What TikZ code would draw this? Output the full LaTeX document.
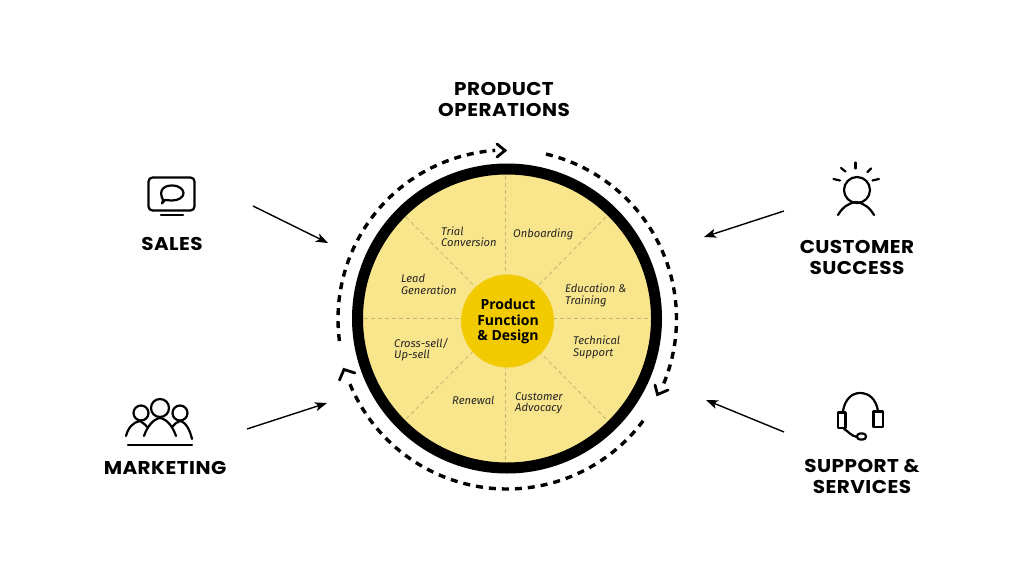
\documentclass[tikz,border=0pt]{standalone}
\usepackage{fontspec}
\usetikzlibrary{arrows.meta}
\setmainfont{Poppins}
\newfontfamily\headfont[FakeStretch=1.08,LetterSpace=2.5]{Poppins}
\newfontfamily\itfont{Fira Sans}
\newfontfamily\cenfont{Open Sans}
\definecolor{pale}{HTML}{F9E58B}
\definecolor{core}{HTML}{F2CA00}
\definecolor{spoke}{HTML}{C4B570}
\definecolor{ink}{HTML}{000000}
\tikzset{
  x=1pt,y=-1pt,
  head/.style={font=\headfont\fontsize{18.5}{21}\selectfont\bfseries,text=ink,align=center,inner sep=0pt},
  seg/.style={font=\itfont\itshape\fontsize{11.2}{11.5}\selectfont,text=ink!85,align=left,anchor=west,inner sep=0pt},
  corelabel/.style={font=\cenfont\bfseries\fontsize{14}{15.5}\selectfont,text=ink,align=center,inner sep=0pt},
  spokeline/.style={draw=spoke,line width=0.8pt,dash pattern=on 4pt off 3pt},
  orbit/.style={draw=ink,line width=3.4pt,dash pattern=on 7pt off 6pt,smooth},
  pointer/.style={draw=ink,line width=1.4pt,-{Stealth[length=12pt,width=9pt,inset=3pt]}},
  icon/.style={draw=ink,line width=2.2pt,line cap=round,line join=round},
  barb/.style={draw=ink,line width=2.8pt,line cap=round,line join=miter}
}
\begin{document}
\begin{tikzpicture}
\useasboundingbox[fill=white] (0,0) rectangle (1024,577);
% wheel
\node[circle,fill=pale,draw=ink,line width=11pt,minimum size=299pt,inner sep=0pt] (wheel) at (507,318.5) {};
\coordinate (wN) at (505.5,176); \coordinate (wS) at (505.5,461);
\coordinate (wW) at (364,318); \coordinate (wE) at (650,318);
\coordinate (wNW) at (406,217); \coordinate (wNE) at (606,217);
\coordinate (wSW) at (406,419); \coordinate (wSE) at (606,419);
\foreach \a/\b in {wN/wS,wW/wE,wNW/wSE,wNE/wSW} \draw[spokeline] (\a) -- (\b);
\node[circle,fill=core,minimum size=93pt,inner sep=0pt] (hub) at (507.5,321) {};
\node[corelabel] (hubt) at (508,321.5) {Product\\Function\\\& Design};
% segment labels
\node[seg] (s1) at (441,236.5) {Trial\\Conversion};
\node[seg] (s2) at (513,234.5) {Onboarding};
\node[seg] (s3) at (401,284.5) {Lead\\Generation};
\node[seg] (s4) at (565,295.5) {Education \&\\Training};
\node[seg] (s5) at (394,349.5) {Cross-sell/\\Up-sell};
\node[seg] (s6) at (573,347.5) {Technical\\Support};
\node[seg] (s7) at (452,400.5) {Renewal};
\node[seg] (s8) at (515,403.5) {Customer\\Advocacy};
% orbit arcs
\draw[orbit] plot[domain=172.5:266,samples=60] ({507+169*cos(\x)},{319+169*sin(\x)});
\draw[orbit] plot[domain=-76.7:23,samples=60] ({507+169.5*cos(\x)},{319+169.5*sin(\x)});
\draw[orbit] plot[domain=36.8:158,samples=60] ({507+170*cos(\x)},{319+170*sin(\x)});
\coordinate (b1a) at (497,144); \coordinate (b1b) at (505,150.5); \coordinate (b1c) at (497,157);
\draw[barb] (b1a) -- (b1b) -- (b1c);
\coordinate (b2a) at (655,385); \coordinate (b2b) at (657.5,394.5); \coordinate (b2c) at (668,390);
\draw[barb] (b2a) -- (b2b) -- (b2c);
\coordinate (b3a) at (339.5,380); \coordinate (b3b) at (344,369.5); \coordinate (b3c) at (355,373);
\draw[barb] (b3a) -- (b3b) -- (b3c);
% titles
\node[head] (ops) at (504,99) {PRODUCT\\OPERATIONS};
\node[head] (sales) at (172,243.5) {SALES};
\node[head] (mkt) at (165,467.5) {MARKETING};
\node[head] (cs) at (857,257) {CUSTOMER\\SUCCESS};
\node[head] (sup) at (862,476.5) {SUPPORT \&\\SERVICES};
% pointers
\coordinate (p1a) at (253,206); \coordinate (p1b) at (328,243);
\coordinate (p2a) at (247,429); \coordinate (p2b) at (327,403);
\coordinate (p3a) at (784,211); \coordinate (p3b) at (704,237);
\coordinate (p4a) at (784,432); \coordinate (p4b) at (706,400);
\draw[pointer] (p1a) -- (p1b);
\draw[pointer] (p2a) -- (p2b);
\draw[pointer] (p3a) -- (p3b);
\draw[pointer] (p4a) -- (p4b);
% sales icon
\draw[icon,rounded corners=4pt] (148.5,177.5) rectangle (194.5,210.5);
\draw[icon] (161,215) -- (183,215);
\draw[icon] (163,200) .. controls (158,190) and (164,185.5) .. (172,185.5)
  .. controls (180,185.5) and (183.5,190) .. (183.5,193)
  .. controls (183.5,197) and (179,200.5) .. (172,200.5)
  .. controls (169,200.5) and (167,200) .. (165,200) -- (162,203.5) -- cycle;
% marketing icon
\draw[icon] (160,408) circle (9);
\draw[icon] (141,413) circle (7.5);
\draw[icon] (180,413) circle (7.5);
\draw[icon] (126,436) .. controls (128,428) and (133,422) .. (140,421) .. controls (143,423) and (146,425) .. (147,427);
\draw[icon] (144,436) .. controls (147,427) and (153,419) .. (160,418) .. controls (167,419) and (173,427) .. (176,436);
\draw[icon] (172,427) .. controls (174,424) and (177,422) .. (181,421) .. controls (186,423) and (190,430) .. (192,439);
\draw[icon,line width=2.4pt] (128,445) -- (192,445);
% customer icon
\draw[icon] (857,190) circle (13);
\draw[icon] (838,215) .. controls (842,208) and (848,203) .. (856,202) .. controls (864,203) and (870,208) .. (874,215);
\draw[icon] (855.5,162.5) -- (855.5,168.5);
\draw[icon] (841,168) -- (845.5,171.5);
\draw[icon] (833.5,179) -- (840,180.5);
\draw[icon] (871,168.5) -- (867.5,172);
\draw[icon] (879,179) -- (872.5,180.5);
% headset icon
\draw[icon] (843,411) .. controls (845,399) and (852,393) .. (860,393) .. controls (869,393) and (876,399) .. (878,411);
\draw[icon] (838,412.5) rectangle (845.5,428);
\draw[icon] (873.5,411.5) rectangle (883,427);
\draw[icon] (844,429) .. controls (848,431) and (851,436) .. (857,437);
\draw[icon,rounded corners=3pt] (857,433.5) rectangle (866,439.5);
\end{tikzpicture}
\end{document}
